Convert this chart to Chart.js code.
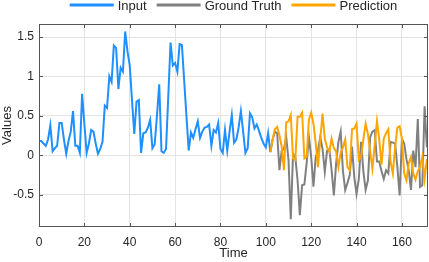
<!DOCTYPE html>
<html>
<head>
<meta charset="utf-8">
<script src="https://cdn.jsdelivr.net/npm/chart.js@4/dist/chart.umd.min.js"></script>
<style>
  html, body { margin: 0; padding: 0; background: #fff; }
</style>
</head>
<body>
<canvas id="seriesChart" width="429" height="262"></canvas>
<script>
// Axis ticks
const xTicks = [0, 20, 40, 60, 80, 100, 120, 140, 160];
const yTicks = [-0.5, 0, 0.5, 1, 1.5];

// Observed input, t = 0..102
const inputValues = [
    0.18, 0.18, 0.15, 0.12, 0.20, 0.38, 0.05, 0.09, 0.12, 0.41,
    0.41, 0.20, 0.02, 0.18, 0.30, 0.56, 0.12, 0.12, 0.03, 0.78,
    0.40, 0.03, 0.15, 0.32, 0.30, 0.15, 0.02, 0.08, 0.17, 0.63,
    0.60, 1.00, 0.93, 1.39, 1.36, 0.84, 1.11, 1.06, 1.57, 1.32,
    1.14, 0.70, 0.27, 0.68, 0.70, 0.03, 0.28, 0.29, 0.35, 0.45,
    0.09, 0.14, 0.50, 0.90, 0.05, 0.03, 0.08, 0.75, 1.43, 1.14,
    1.17, 1.06, 1.41, 1.40, 0.95, 0.50, 0.06, 0.29, 0.22, 0.33,
    0.43, 0.22, 0.30, 0.35, 0.36, 0.39, 0.12, 0.32, 0.29, 0.41,
    0.08, 0.03, 0.32, 0.06, 0.30, 0.51, 0.16, 0.20, 0.35, 0.56,
    0.30, 0.03, 0.09, 0.53, 0.48, 0.34, 0.39, 0.31, 0.22, 0.15,
    0.10, 0.28, 0.04
];

// Forecast window starts where the input ends
const predStart = 102;

// Ground truth, t = 102..171
const truthValues = [
    0.04, 0.20, 0.30, 0.28, -0.19, 0.06, 0.08, 0.23, -0.06, -0.81,
    0.02, -0.02, -0.32, -0.76, -0.38, -0.37, -0.10, 0.23, -0.02, -0.40,
    -0.02, 0.06, 0.23, 0.08, -0.21, 0.06, 0.08, -0.19, -0.51, -0.10,
    0.17, 0.30, -0.20, -0.44, -0.35, -0.25, 0.11, -0.28, -0.49, -0.30,
    0.17, -0.20, -0.44, -0.32, 0.23, 0.30, 0.32, -0.08, -0.08, -0.20,
    -0.30, -0.19, -0.23, 0.17, 0.16, 0.15, -0.15, -0.51, 0.21, 0.15,
    -0.05, -0.19, -0.44, 0.06, -0.15, 0.46, -0.40, -0.38, 0.62, 0.10
];

// Prediction, t = 102..171
const predValues = [
    0.04, 0.20, 0.33, 0.36, 0.25, 0.11, -0.19, 0.42, 0.43, 0.51,
    -0.04, -0.06, 0.49, 0.49, 0.54, -0.04, -0.02, 0.45, 0.54, 0.40,
    0.15, -0.15, 0.20, 0.53, 0.21, 0.10, 0.04, 0.21, 0.09, 0.05,
    -0.15, 0.03, 0.10, 0.20, -0.15, -0.19, 0.33, 0.34, 0.40, -0.06,
    -0.02, 0.20, 0.40, 0.27, 0.05, -0.17, 0.13, 0.43, 0.20, -0.12,
    0.21, 0.28, 0.33, -0.08, -0.23, 0.10, 0.35, 0.37, 0.21, -0.23,
    -0.32, -0.10, -0.02, -0.23, -0.31, -0.20, -0.15, -0.02, -0.30, -0.05
];

const FONT = 'Liberation Sans';
const TEXT = '#262626';

const toPoints = (values, offset) => values.map((v, i) => ({ x: offset + i, y: v }));

// Horizontal legend with line samples above the plot
const lineLegend = {
    id: 'lineLegend',
    afterDraw(chart) {
        const { ctx, chartArea } = chart;
        ctx.save();
        ctx.font = `13px "${FONT}"`;
        ctx.textBaseline = 'middle';
        const items = chart.data.datasets.map(ds => ({
            label: ds.label, color: ds.borderColor, w: ctx.measureText(ds.label).width
        }));
        const lineLen = 44, gap = 4, spacing = 10, y = 5;
        const total = items.reduce((s, it) => s + lineLen + gap + it.w, 0) + spacing * (items.length - 1);
        let x = (chartArea.left + chartArea.right) / 2 - total / 2;
        items.forEach(it => {
            ctx.strokeStyle = it.color;
            ctx.lineWidth = 3;
            ctx.beginPath();
            ctx.moveTo(x, y);
            ctx.lineTo(x + lineLen, y);
            ctx.stroke();
            x += lineLen + gap;
            ctx.fillStyle = TEXT;
            ctx.fillText(it.label, x, y + 1);
            x += it.w + spacing;
        });
        ctx.restore();
    }
};

// Box around the axes with inward tick marks on all sides
const axesBox = {
    id: 'axesBox',
    afterDatasetsDraw(chart) {
        const { ctx, chartArea: a, scales: { x, y } } = chart;
        const len = 4;
        ctx.save();
        ctx.strokeStyle = '#555555';
        ctx.lineWidth = 1;
        ctx.strokeRect(a.left + 0.5, a.top + 0.5, a.width - 1, a.height - 1);
        ctx.beginPath();
        x.ticks.forEach(t => {
            const px = Math.round(x.getPixelForValue(t.value)) + 0.5;
            ctx.moveTo(px, a.bottom); ctx.lineTo(px, a.bottom - len);
            ctx.moveTo(px, a.top); ctx.lineTo(px, a.top + len);
        });
        y.ticks.forEach(t => {
            const py = Math.round(y.getPixelForValue(t.value)) + 0.5;
            ctx.moveTo(a.left, py); ctx.lineTo(a.left + len, py);
            ctx.moveTo(a.right, py); ctx.lineTo(a.right - len, py);
        });
        ctx.stroke();
        ctx.restore();
    }
};

const ctx = document.getElementById('seriesChart').getContext('2d');

new Chart(ctx, {
    type: 'line',
    data: {
        datasets: [
            {
                label: 'Input',
                data: toPoints(inputValues, 0),
                borderColor: '#1E90FF',
                borderWidth: 2,
                pointRadius: 0,
                tension: 0,
                order: 2
            },
            {
                label: 'Ground Truth',
                data: toPoints(truthValues, predStart),
                borderColor: '#808080',
                borderWidth: 2,
                pointRadius: 0,
                tension: 0,
                order: 1
            },
            {
                label: 'Prediction',
                data: toPoints(predValues, predStart),
                borderColor: '#FFA500',
                borderWidth: 2,
                pointRadius: 0,
                tension: 0,
                order: 0
            }
        ]
    },
    options: {
        responsive: false,
        animation: false,
        layout: { padding: { left: 0, right: 1, top: 24, bottom: 0 } },
        plugins: {
            legend: { display: false },
            tooltip: { enabled: false }
        },
        scales: {
            x: {
                type: 'linear',
                min: 0,
                max: 171.5,
                afterBuildTicks: s => { s.ticks = xTicks.map(v => ({ value: v })); },
                afterFit: s => { s.height = 35; },
                grid: { color: '#e3e3e3', drawTicks: false },
                border: { display: false },
                ticks: { color: TEXT, font: { family: FONT, size: 12 }, padding: 8, maxRotation: 0 },
                title: { display: true, text: 'Time', color: TEXT, font: { family: FONT, size: 13 }, padding: { top: 0, bottom: 1 } }
            },
            y: {
                type: 'linear',
                min: -0.91,
                max: 1.665,
                afterBuildTicks: s => { s.ticks = yTicks.map(v => ({ value: v })); },
                afterFit: s => { s.width = 39; },
                grid: { color: '#e3e3e3', drawTicks: false },
                border: { display: false },
                ticks: { color: TEXT, font: { family: FONT, size: 12 }, padding: 5, callback: v => String(v) },
                title: { display: true, text: 'Values', color: TEXT, font: { family: FONT, size: 13 }, padding: { top: 0, bottom: 0 } }
            }
        }
    },
    plugins: [lineLegend, axesBox]
});
</script>
</body>
</html>
